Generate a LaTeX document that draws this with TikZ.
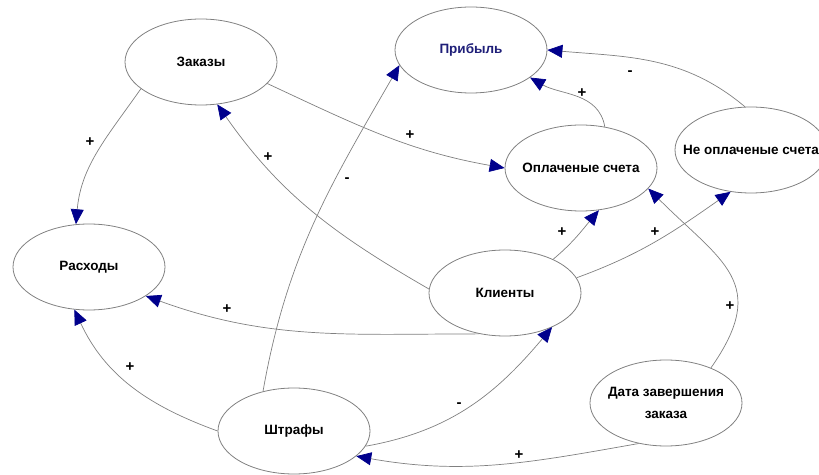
\documentclass[tikz,border=0pt]{standalone}
\usepackage{fontspec}
\setmainfont{Liberation Sans}
\usetikzlibrary{arrows.meta,shapes.geometric}

\definecolor{linegray}{RGB}{128,128,128}
\definecolor{arrownavy}{RGB}{0,0,140}
\definecolor{textnavy}{RGB}{30,30,120}

\begin{document}
\begin{tikzpicture}
[x=1pt,y=1pt,
  nodeDecorate/.style={shape=ellipse,draw=linegray,line width=0.8pt,
    minimum width=152pt,minimum height=86pt,inner sep=0pt},%
  textDecorate/.style={font=\fontsize{13.5}{22}\selectfont\bfseries,align=center},%
  signDecorate/.style={font=\fontsize{15}{16}\selectfont\bfseries,inner sep=1pt},%
  lineDecorate/.style={-{Triangle[length=15pt,width=13pt,color=arrownavy]},
    draw=linegray,line width=0.7pt}]
\useasboundingbox (0,0) rectangle (819,474);
%% nodes or vertices
\foreach \nodename/\x/\y/\nodetext in {
  zak/201/412/{Заказы}, prib/471/424/{\color{textnavy}Прибыль},
  opl/581/306/{Оплаченые счета}, neopl/751/324/{Не оплаченые счета},
  rash/89/207/{Расходы}, klient/505/181/{Клиенты},
  shtraf/294/43/{Штрафы}, data/666/71/{Дата завершения\\заказа}}
{
  \node (\nodename) at (\x,\y) [nodeDecorate,
    label={[textDecorate]center:\nodetext}] {};
}
%% edges or lines
\path
\foreach \startnode/\endnode/\outangle/\inangle/\loose in {
  zak.204/rash.107/235/85/1, klient.177/zak.291/150/305/1,
  shtraf.128/prib.192/80/240/1, zak.342/opl.180/-25/170/1,
  opl.60/prib.335/100/330/1, neopl.98/prib.0/140/-5/1,
  klient.35/opl.293/40/230/1, klient.12/neopl.244/20/215/1,
  data.38/opl.343/55/-45/1.4, klient.238/rash.333/180/-20/1,
  shtraf.180/rash.251/160/295/1, shtraf.348/klient.324/10/230/1,
  data.236/shtraf.338/190/-10/1}
{
  (\startnode) edge[lineDecorate,out=\outangle,in=\inangle,looseness=\loose] (\endnode)
};
%% signs
\foreach \signname/\x/\y/\sign in {
  s1/90/332/+, s2/268/317/+, s3/347/294/-, s4/410/339/+,
  s5/582/381/+, s6/630/401/-, s7/562/242/+, s8/655/242/+,
  s9/730/168/+, s10/227/165/+, s11/130/107/+, s12/459/69/-,
  s13/519/19/+}
{
  \node (\signname) at (\x,\y) [signDecorate] {\sign};
}
\end{tikzpicture}
\end{document}
